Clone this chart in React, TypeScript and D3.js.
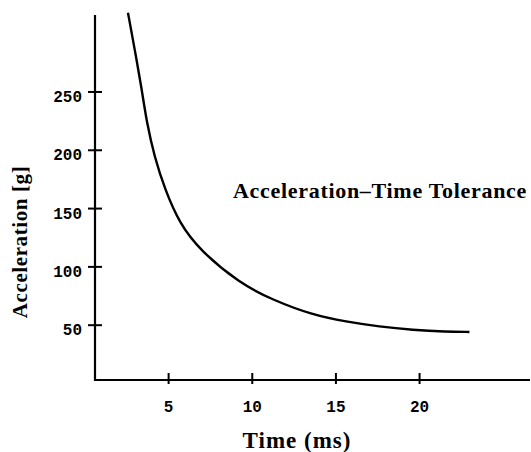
import React from "react";
import * as d3 from "d3";

const xTicks = [5, 10, 15, 20];
const yTicks = [50, 100, 150, 200, 250];
const timeMs = [2.57, 2.98, 3.4, 3.69, 4.15, 4.79, 5.65, 6.85, 9.24, 11.23, 13.62, 15.61, 17.6, 19.59, 21.59, 22.98];
const accelG = [318, 286, 252, 224, 194.5, 166, 137.4, 114.5, 85.9, 71.6, 58.7, 53, 48.7, 45.9, 44.4, 44.2];
const titleText = "Acceleration\u2013Time Tolerance";
const xLabel = "Time (ms)";
const yLabel = "Acceleration [g]";

const W = 531;
const H = 452;

export default function App() {
  const x = d3.scaleLinear().domain([0.6, 26.6]).range([95, 530]);
  const y = d3.scaleLinear().domain([3, 316]).range([380, 15]);
  const pts = timeMs.map((t, i) => [t, accelG[i]] as [number, number]);
  const line = d3
    .line<[number, number]>()
    .x((d) => x(d[0]))
    .y((d) => y(d[1]))
    .curve(d3.curveBasis);
  const serif = "'Liberation Serif', 'Times New Roman', serif";
  const mono = "'Liberation Mono', 'Courier New', monospace";
  return (
    <svg
      width={W}
      height={H}
      style={{ position: "absolute", left: 0, top: 0, background: "#fff" }}
    >
      <rect x={0} y={0} width={W} height={H} fill="#fff" />
      <line x1={x.range()[0]} x2={x.range()[0]} y1={y.range()[1]} y2={y.range()[0] + 1} stroke="#000" strokeWidth={2.2} />
      <line x1={x.range()[0] - 1} x2={x.range()[1]} y1={y.range()[0]} y2={y.range()[0]} stroke="#000" strokeWidth={2.2} />
      {yTicks.map((v) => (
        <g key={"y" + v}>
          <line x1={x.range()[0] - 7} x2={x.range()[0] + 7} y1={y(v)} y2={y(v)} stroke="#000" strokeWidth={2} />
          <text x={82} y={y(v) + 10} textAnchor="end" fontFamily={mono} fontWeight="bold" fontSize={16}>
            {v}
          </text>
        </g>
      ))}
      {xTicks.map((v) => (
        <g key={"x" + v}>
          <line x1={x(v)} x2={x(v)} y1={y.range()[0] - 7} y2={y.range()[0] + 4} stroke="#000" strokeWidth={2} />
          <text x={x(v)} y={412} textAnchor="middle" fontFamily={mono} fontWeight="bold" fontSize={16}>
            {v}
          </text>
        </g>
      ))}
      <path d={line(pts) || ""} fill="none" stroke="#000" strokeWidth={2.4} />
      <text x={380} y={198} textAnchor="middle" fontFamily={serif} fontWeight="bold" fontSize={22} letterSpacing={0.7}>
        {titleText}
      </text>
      <text x={297} y={448} textAnchor="middle" fontFamily={serif} fontWeight="bold" fontSize={23} letterSpacing={1}>
        {xLabel}
      </text>
      <text
        transform={`translate(27, 242) rotate(-90)`}
        textAnchor="middle"
        fontFamily={serif}
        fontWeight="bold"
        fontSize={21}
        letterSpacing={0.6}
      >
        {yLabel}
      </text>
    </svg>
  );
}
